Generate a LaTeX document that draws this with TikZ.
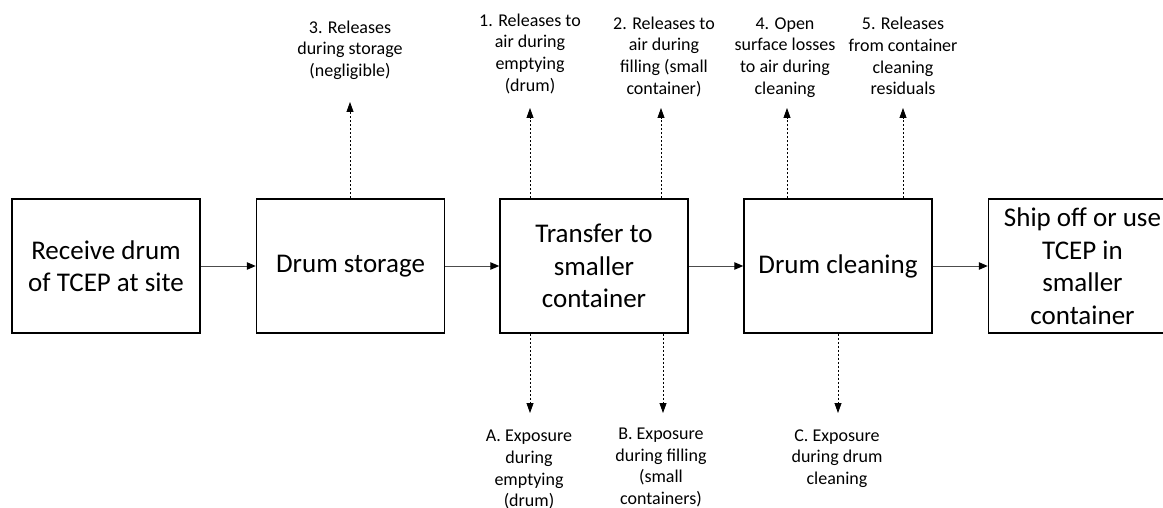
\documentclass[tikz,border=0pt]{standalone}
\usepackage{fontspec}
\setmainfont{Carlito}
\usetikzlibrary{arrows.meta}

\begin{document}
\begin{tikzpicture}[x=1pt,y=-1pt,
  stepbox/.style={draw=black, line width=1.5pt, minimum width=188pt,
    minimum height=134pt, inner sep=0pt, align=center,
    font=\fontsize{27}{32.5}\selectfont},
  flow/.style={line width=1pt, draw=black!70,
    -{Triangle[length=9pt,width=7.5pt,color=black]}},
  release/.style={line width=0.8pt, dash pattern=on 2.5pt off 1.5pt,
    -{Triangle[length=10pt,width=7pt]}},
  note/.style={inner sep=0pt, align=center, anchor=north,
    font=\fontsize{18}{21.7}\selectfont},
]
\useasboundingbox (0,0) rectangle (1163,508);

% process steps
\node[stepbox] (b1) at (106,266)   {Receive drum\\of TCEP at site};
\node[stepbox] (b2) at (350.5,266) {Drum storage};
\node[stepbox] (b3) at (594,266)   {Transfer to\\smaller\\container};
\node[stepbox] (b4) at (838,266)   {Drum cleaning};
\node[stepbox] (b5) at (1082.5,266) {Ship off or use\\TCEP in\\smaller\\container};

% main flow
\draw[flow] (b1) -- (b2);
\draw[flow] (b2) -- (b3);
\draw[flow] (b3) -- (b4);
\draw[flow] (b4) -- (b5);

% release points above the steps
\coordinate (t3) at (350,102);
\coordinate (t1) at (530,108);
\coordinate (t2) at (661,108);
\coordinate (t4) at (787,108);
\coordinate (t5) at (903,108);

\node[note] (l3) at (350,17.8)  {\strut 3. Releases\\during storage\\(negligible)};
\node[note] (l1) at (530,10.8)  {\strut 1. Releases to\\air during\\emptying\\(drum)};
\node[note] (l2) at (664,13.8)  {\strut 2. Releases to\\air during\\filling (small\\container)};
\node[note] (l4) at (785,13.8)  {\strut 4. Open\\surface losses\\to air during\\cleaning};
\node[note] (l5) at (903,14.3)  {\strut 5. Releases\\from container\\cleaning\\residuals};

\draw[release] (b2.north -| t3) -- (t3);
\draw[release] (b3.north -| t1) -- (t1);
\draw[release] (b3.north -| t2) -- (t2);
\draw[release] (b4.north -| t4) -- (t4);
\draw[release] (b4.north -| t5) -- (t5);

% exposure points below the steps
\coordinate (tA) at (530,413);
\coordinate (tB) at (663,413);
\coordinate (tC) at (838,413);

\node[note] (lA) at (529,426.4) {\strut A. Exposure\\during\\emptying\\(drum)};
\node[note] (lB) at (661,424.1) {\strut B. Exposure\\during filling\\(small\\containers)};
\node[note] (lC) at (837,425.8) {\strut C. Exposure\\during drum\\cleaning};

\draw[release] (b3.south -| tA) -- (tA);
\draw[release] (b3.south -| tB) -- (tB);
\draw[release] (b4.south -| tC) -- (tC);
\end{tikzpicture}
\end{document}
